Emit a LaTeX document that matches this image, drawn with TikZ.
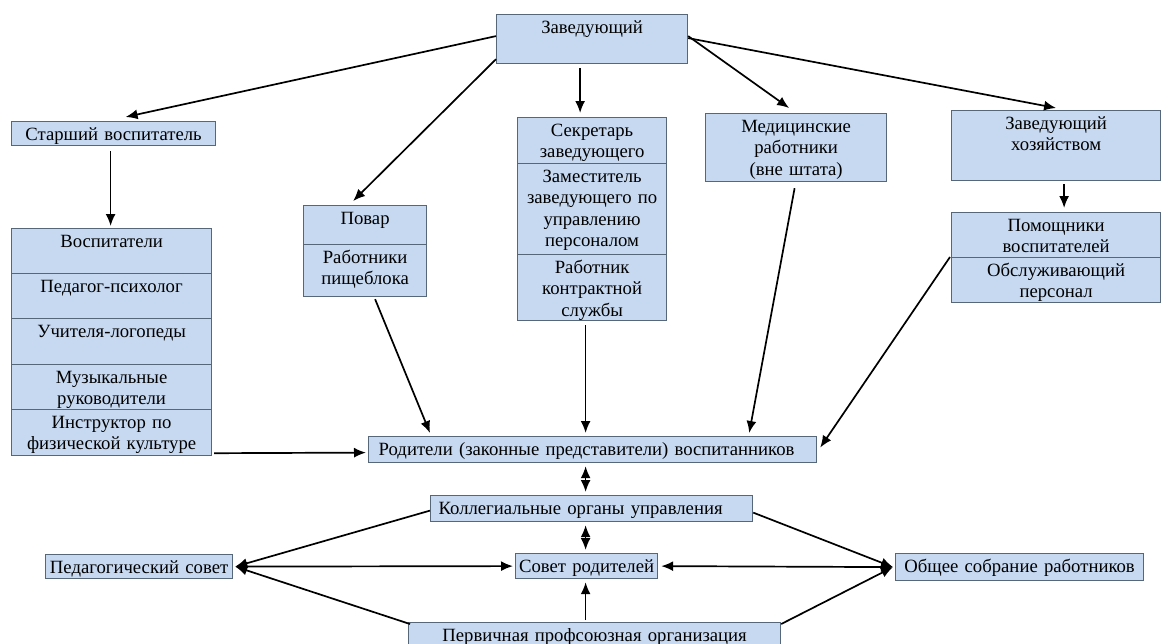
\documentclass[tikz,border=0pt]{standalone}
\usepackage{fontspec}
\setmainfont{Liberation Serif}
\usetikzlibrary{arrows.meta}
\definecolor{boxfill}{HTML}{C6D9F1}
\definecolor{boxline}{HTML}{56677A}
\tikzset{
 box/.style={draw=boxline, fill=boxfill, line width=1.2pt, inner sep=0pt, anchor=north west},
 btext/.style={inner sep=0pt, anchor=north, align=center, font=\fontsize{18.7}{21.5}\selectfont},
 conn/.style={line width=1.7pt, -{Latex[length=12pt,width=10pt]}},
 dconn/.style={line width=1.7pt, {Latex[length=12pt,width=10pt]}-{Latex[length=12pt,width=10pt]}},
}
\newcommand\mybox[7][]{%
 \node[box, minimum width={(#5-#3)*1pt}, minimum height={(#6-#4)*1pt}] (#2) at (#3,#4) {};
 \node[btext, text width={(#5-#3)*1pt}, #1] (#2t) at ([yshift=-5pt]#2.north) {\rule{0pt}{14pt}#7};
}
\begin{document}
\begin{tikzpicture}[x=1pt,y=-1pt]
\fill[white] (0,0) rectangle (1164,643);
\useasboundingbox (0,0) rectangle (1164,643);
\mybox{zav}{496}{14}{687}{63}{Заведующий}
\mybox{star}{11}{121}{215}{145}{Старший воспитатель}
\mybox{vos1}{11}{228}{211}{273}{Воспитатели}
\mybox{vos2}{11}{273}{211}{318}{Педагог-психолог}
\mybox{vos3}{11}{318}{211}{364}{Учителя-логопеды}
\mybox{vos4}{11}{364}{211}{409}{Музыкальные\\руководители}
\mybox{vos5}{11}{409}{211}{455}{Инструктор по\\физической культуре}
\mybox{pov1}{303}{205}{426}{244}{Повар}
\mybox{pov2}{303}{244}{426}{296}{Работники\\пищеблока}
\mybox{sek1}{517}{117}{666}{163}{Секретарь\\заведующего}
\mybox{sek2}{517}{163}{666}{254}{Заместитель\\заведующего по\\управлению\\персоналом}
\mybox{sek3}{517}{254}{666}{320}{Работник\\контрактной\\службы}
\mybox{med}{705}{113}{886}{181}{Медицинские\\работники\\(вне штата)}
\mybox{hoz}{951}{110}{1160}{180}{Заведующий\\хозяйством}
\mybox{pom1}{951}{212}{1160}{257}{Помощники\\воспитателей}
\mybox{pom2}{951}{257}{1160}{302}{Обслуживающий\\персонал}
\mybox[xshift=-6pt]{rod}{368}{436}{816}{462}{Родители (законные представители) воспитанников}
\mybox[xshift=-11pt]{kol}{430}{495}{752}{521}{Коллегиальные органы управления}
\mybox{ped}{45}{554}{232}{578}{Педагогический совет}
\mybox{sov}{515}{553}{657}{578}{Совет родителей}
\mybox{obs}{895}{553}{1143}{580}{Общее собрание работников}
\mybox{per}{408}{622}{780}{652}{Первичная профсоюзная организация}

\draw[conn] ([yshift=3pt]zav.west) -- ([xshift=12pt,yshift=4pt]star.north);
\draw[conn] ([yshift=5pt]zav.south west) -- ([xshift=-12pt,yshift=4pt]pov1.north);
\draw[conn] ([xshift=-12pt,yshift=-4pt]zav.south) -- ([xshift=-12pt,yshift=4pt]sek1.north);
\draw[conn] ([yshift=3pt]zav.east) -- ([xshift=-7pt,yshift=5pt]med.north);
\draw[conn] ([yshift=1pt]zav.east) -- ([yshift=2pt]hoz.north);
\draw[conn] ([xshift=-3pt,yshift=-5pt]star.south) -- ([xshift=-1pt,yshift=2pt]vos1.north);
\draw[conn] ([xshift=8pt,yshift=-3pt]hoz.south) -- ([xshift=8pt,yshift=4pt]pom1.north);
\draw[conn] ([xshift=2pt,yshift=3pt]vos5.south east) -- ([xshift=-2pt,yshift=-3pt]rod.west);
\draw[conn] ([xshift=10pt,yshift=-2pt]pov2.south) -- ([xshift=62pt,yshift=3pt]rod.north west);
\draw[conn] ([xshift=-6.5pt,yshift=-4pt]sek3.south) -- ([xshift=-7pt,yshift=3pt]rod.north);
\draw[conn] ([xshift=-1.5pt,yshift=-6pt]med.south) -- ([xshift=-68pt,yshift=3pt]rod.north east);
\draw[conn] ([xshift=-1pt]pom2.north west) -- ([xshift=3pt,yshift=2pt]rod.east);
\draw[dconn] ([xshift=-7pt,yshift=-3pt]rod.south) -- ([xshift=-6pt,yshift=3pt]kol.north);
\draw[dconn] ([xshift=-6pt,yshift=-3pt]kol.south) -- ([xshift=-1pt,yshift=3pt]sov.north);
\draw[conn] ([yshift=-2pt]kol.west) -- ([xshift=2pt]ped.east);
\draw[dconn] ([xshift=2pt]ped.east) -- ([xshift=-2pt]sov.west);
\draw[conn] ([xshift=2pt,yshift=-2pt]per.north west) -- ([xshift=2pt]ped.east);
\draw[conn] ([xshift=-9pt,yshift=2pt]per.north) -- ([xshift=-1pt,yshift=-3pt]sov.south);
\draw[conn] ([yshift=-4pt]kol.east) -- ([xshift=-2pt]obs.west);
\draw[dconn] ([xshift=3pt]sov.east) -- ([xshift=-2pt]obs.west);
\draw[conn] ([yshift=-2pt]per.north east) -- ([xshift=-2pt]obs.west);
\end{tikzpicture}
\end{document}
